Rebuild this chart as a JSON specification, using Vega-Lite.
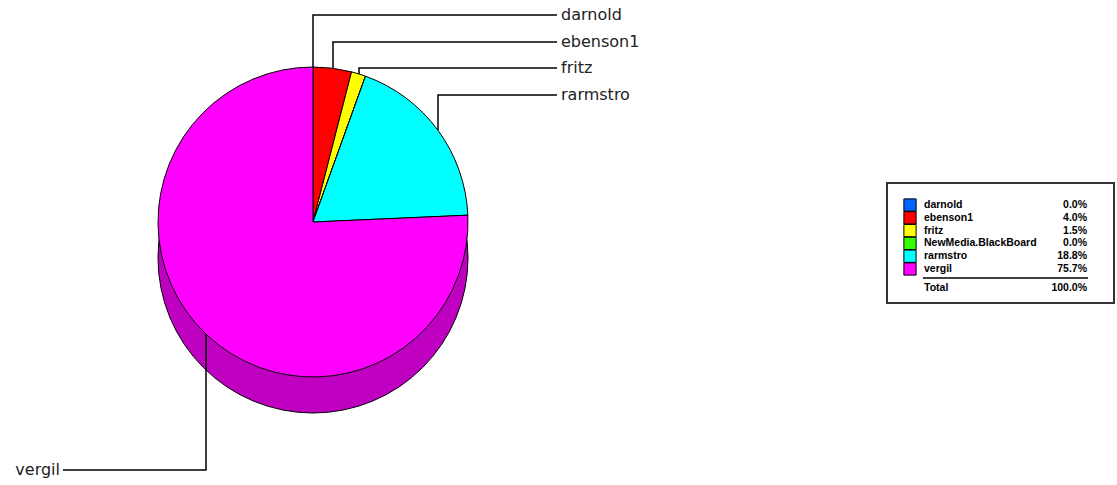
{
  "$schema": "https://vega.github.io/schema/vega-lite/v6.json",
  "width": 1117,
  "height": 485,
  "autosize": {"type": "fit", "contains": "padding"},
  "padding": 0,
  "background": "white",
  "config": {"view": {"stroke": null}},
  "datasets": {
    "shares": [
      {"name": "darnold", "share": 0.0, "rank": 1},
      {"name": "ebenson1", "share": 0.04, "rank": 2},
      {"name": "fritz", "share": 0.015, "rank": 3},
      {"name": "NewMedia.BlackBoard", "share": 0.0, "rank": 4},
      {"name": "rarmstro", "share": 0.188, "rank": 5},
      {"name": "vergil", "share": 0.757, "rank": 6}
    ],
    "leaders": [
      {"name": "darnold", "seq": 1, "x": 313, "y": 67},
      {"name": "darnold", "seq": 2, "x": 313, "y": 15},
      {"name": "darnold", "seq": 3, "x": 557, "y": 15},
      {"name": "ebenson1", "seq": 1, "x": 333, "y": 68},
      {"name": "ebenson1", "seq": 2, "x": 333, "y": 42},
      {"name": "ebenson1", "seq": 3, "x": 557, "y": 42},
      {"name": "fritz", "seq": 1, "x": 359, "y": 74},
      {"name": "fritz", "seq": 2, "x": 359, "y": 68},
      {"name": "fritz", "seq": 3, "x": 557, "y": 68},
      {"name": "rarmstro", "seq": 1, "x": 438, "y": 130},
      {"name": "rarmstro", "seq": 2, "x": 438, "y": 95},
      {"name": "rarmstro", "seq": 3, "x": 557, "y": 95},
      {"name": "vergil", "seq": 1, "x": 206, "y": 334},
      {"name": "vergil", "seq": 2, "x": 206, "y": 470},
      {"name": "vergil", "seq": 3, "x": 63, "y": 470}
    ],
    "labels": [
      {"name": "darnold", "side": "right", "x": 561, "y": 15},
      {"name": "ebenson1", "side": "right", "x": 561, "y": 42},
      {"name": "fritz", "side": "right", "x": 561, "y": 68},
      {"name": "rarmstro", "side": "right", "x": 561, "y": 95},
      {"name": "vergil", "side": "left", "x": 60, "y": 470}
    ]
  },
  "resolve": {"scale": {"y": "independent"}},
  "layer": [
    {
      "layer": [
        {
          "data": {"values": [{"part": "side"}]},
          "mark": {"type": "arc", "theta": 0, "theta2": 6.2832, "outerRadius": 155, "yOffset": 36, "fill": "#C000C0", "stroke": "#000000", "strokeWidth": 1},
          "encoding": {
            "x": {"datum": 313, "type": "quantitative", "scale": {"domain": [0, 1117], "nice": false}, "axis": null},
            "y": {"datum": 222, "type": "quantitative", "scale": {"domain": [0, 485], "reverse": true, "nice": false}, "axis": null}
          }
        },
        {
          "data": {"name": "shares"},
          "mark": {"type": "arc", "outerRadius": 155, "stroke": "#000000", "strokeWidth": 1},
          "encoding": {
            "theta": {"field": "share", "type": "quantitative", "stack": true},
            "order": {"field": "rank", "type": "quantitative"},
            "color": {
              "field": "name", "type": "nominal", "legend": null,
              "scale": {
                "domain": ["darnold", "ebenson1", "fritz", "NewMedia.BlackBoard", "rarmstro", "vergil"],
                "range": ["#0066FF", "#FF0000", "#FFFF00", "#33FF00", "#00FFFF", "#FF00FF"]
              }
            },
            "x": {"datum": 313, "type": "quantitative", "scale": {"domain": [0, 1117], "nice": false}, "axis": null},
            "y": {"datum": 222, "type": "quantitative", "scale": {"domain": [0, 485], "reverse": true, "nice": false}, "axis": null}
          }
        },
        {
          "data": {"name": "leaders"},
          "mark": {"type": "line", "color": "#000000", "strokeWidth": 1.5},
          "encoding": {
            "x": {"field": "x", "type": "quantitative", "scale": {"domain": [0, 1117], "nice": false}, "axis": null},
            "y": {"field": "y", "type": "quantitative", "scale": {"domain": [0, 485], "reverse": true, "nice": false}, "axis": null},
            "detail": {"field": "name"},
            "order": {"field": "seq", "type": "quantitative"}
          }
        },
        {
          "data": {"name": "labels"},
          "transform": [{"filter": "datum.side == 'right'"}],
          "mark": {"type": "text", "align": "left", "baseline": "middle", "font": "DejaVu Sans", "fontSize": 16, "color": "#222222"},
          "encoding": {
            "x": {"field": "x", "type": "quantitative", "scale": {"domain": [0, 1117], "nice": false}, "axis": null},
            "y": {"field": "y", "type": "quantitative", "scale": {"domain": [0, 485], "reverse": true, "nice": false}, "axis": null},
            "text": {"field": "name"}
          }
        },
        {
          "data": {"name": "labels"},
          "transform": [{"filter": "datum.side == 'left'"}],
          "mark": {"type": "text", "align": "right", "baseline": "middle", "font": "DejaVu Sans", "fontSize": 16, "color": "#222222"},
          "encoding": {
            "x": {"field": "x", "type": "quantitative", "scale": {"domain": [0, 1117], "nice": false}, "axis": null},
            "y": {"field": "y", "type": "quantitative", "scale": {"domain": [0, 485], "reverse": true, "nice": false}, "axis": null},
            "text": {"field": "name"}
          }
        },
        {
          "data": {"values": [{"box": "legend"}]},
          "mark": {"type": "rect", "fill": "#FFFFFF", "stroke": "#333333", "strokeWidth": 2},
          "encoding": {
            "x": {"datum": 887, "type": "quantitative", "scale": {"domain": [0, 1117], "nice": false}, "axis": null},
            "x2": {"datum": 1114},
            "y": {"datum": 183, "type": "quantitative", "scale": {"domain": [0, 485], "reverse": true, "nice": false}, "axis": null},
            "y2": {"datum": 303}
          }
        }
      ]
    },
    {
      "layer": [
        {
          "data": {"name": "shares"},
          "mark": {"type": "point", "shape": "square", "size": 150, "filled": true, "stroke": "#000000", "strokeWidth": 1, "opacity": 1},
          "encoding": {
            "x": {"datum": 910, "type": "quantitative", "scale": {"domain": [0, 1117], "nice": false}, "axis": null},
            "y": {"field": "rank", "type": "quantitative", "scale": {"domain": [1, 6], "range": [205, 269], "nice": false, "zero": false}, "axis": null},
            "color": {"field": "name", "type": "nominal", "legend": null}
          }
        },
        {
          "data": {"name": "shares"},
          "mark": {"type": "text", "align": "left", "baseline": "middle", "font": "Liberation Sans", "fontWeight": "bold", "fontSize": 10.5, "color": "#000000"},
          "encoding": {
            "x": {"datum": 924, "type": "quantitative", "scale": {"domain": [0, 1117], "nice": false}, "axis": null},
            "y": {"field": "rank", "type": "quantitative", "scale": {"domain": [1, 6], "range": [205, 269], "nice": false, "zero": false}, "axis": null},
            "text": {"field": "name"}
          }
        },
        {
          "data": {"name": "shares"},
          "mark": {"type": "text", "align": "right", "baseline": "middle", "font": "Liberation Sans", "fontWeight": "bold", "fontSize": 10.5, "color": "#000000"},
          "encoding": {
            "x": {"datum": 1087, "type": "quantitative", "scale": {"domain": [0, 1117], "nice": false}, "axis": null},
            "y": {"field": "rank", "type": "quantitative", "scale": {"domain": [1, 6], "range": [205, 269], "nice": false, "zero": false}, "axis": null},
            "text": {"field": "share", "format": ".1%"}
          }
        },
        {
          "data": {"values": [{"part": "separator"}]},
          "mark": {"type": "rule", "color": "#000000", "strokeWidth": 1.5},
          "encoding": {
            "x": {"datum": 923, "type": "quantitative", "scale": {"domain": [0, 1117], "nice": false}, "axis": null},
            "x2": {"datum": 1088},
            "y": {"datum": 6.7, "type": "quantitative", "scale": {"domain": [1, 6], "range": [205, 269], "nice": false, "zero": false}, "axis": null}
          }
        },
        {
          "data": {"values": [{"name": "Total", "share": 1.0}]},
          "mark": {"type": "text", "align": "left", "baseline": "middle", "font": "Liberation Sans", "fontWeight": "bold", "fontSize": 10.5, "color": "#000000"},
          "encoding": {
            "x": {"datum": 924, "type": "quantitative", "scale": {"domain": [0, 1117], "nice": false}, "axis": null},
            "y": {"datum": 7.5, "type": "quantitative", "scale": {"domain": [1, 6], "range": [205, 269], "nice": false, "zero": false}, "axis": null},
            "text": {"field": "name"}
          }
        },
        {
          "data": {"values": [{"name": "Total", "share": 1.0}]},
          "mark": {"type": "text", "align": "right", "baseline": "middle", "font": "Liberation Sans", "fontWeight": "bold", "fontSize": 10.5, "color": "#000000"},
          "encoding": {
            "x": {"datum": 1087, "type": "quantitative", "scale": {"domain": [0, 1117], "nice": false}, "axis": null},
            "y": {"datum": 7.5, "type": "quantitative", "scale": {"domain": [1, 6], "range": [205, 269], "nice": false, "zero": false}, "axis": null},
            "text": {"field": "share", "format": ".1%"}
          }
        }
      ]
    }
  ]
}
